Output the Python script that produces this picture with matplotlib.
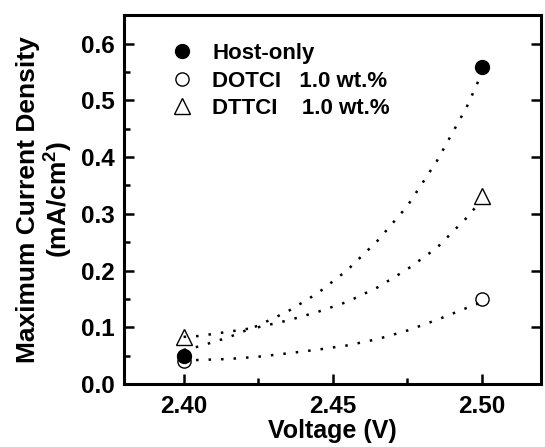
import matplotlib
matplotlib.use("Agg")
import matplotlib.pyplot as plt
from matplotlib.ticker import MultipleLocator, FormatStrFormatter

plt.rcParams["font.family"] = ["Liberation Sans", "DejaVu Sans"]
plt.rcParams["font.weight"] = "bold"
plt.rcParams["mathtext.fontset"] = "custom"
plt.rcParams["mathtext.rm"] = "Liberation Sans:bold"
plt.rcParams["mathtext.bf"] = "Liberation Sans:bold"
plt.rcParams["mathtext.default"] = "regular"

# measured points
voltage = [2.40, 2.50]
host_only = [0.050, 0.559]
dotci = [0.041, 0.150]
dttci = [0.083, 0.332]
labels = ["Host-only", "DOTCI   1.0 wt.%", "DTTCI    1.0 wt.%"]

# dotted fit curves
fit_v = [2.400, 2.405, 2.415, 2.425, 2.435, 2.445, 2.455, 2.465, 2.475, 2.485, 2.495, 2.499]
fit_host = [0.060, 0.066, 0.082, 0.103, 0.128, 0.160, 0.201, 0.252, 0.313, 0.393, 0.488, 0.535]
fit_dotci = [0.041, 0.0423, 0.044, 0.048, 0.054, 0.0605, 0.068, 0.079, 0.094, 0.113, 0.134, 0.142]
fit_dttci = [0.083, 0.0845, 0.092, 0.100, 0.112, 0.127, 0.145, 0.170, 0.202, 0.240, 0.293, 0.318]

fig = plt.figure(figsize=(5.45, 4.47), dpi=100)
ax = fig.add_axes([0.2275, 0.141, 0.7655, 0.825])

dots = (0, (1, 4))
for fy in (fit_host, fit_dotci, fit_dttci):
    ax.plot(fit_v, fy, color="black", lw=1.8, linestyle=dots, zorder=2)

ax.plot(voltage, host_only, "o", color="black", ms=10, label=labels[0], zorder=3)
ax.plot(voltage, dotci, "o", mfc="none", mec="black", mew=1.0, ms=9.5, label=labels[1], zorder=3)
ax.plot(voltage, dttci, "^", mfc="none", mec="black", mew=1.0, ms=11, label=labels[2], zorder=3)

ax.set_xlim(2.38, 2.52)
ax.set_ylim(0, 0.65)
ax.xaxis.set_major_locator(MultipleLocator(0.05))
ax.xaxis.set_minor_locator(MultipleLocator(0.025))
ax.yaxis.set_major_locator(MultipleLocator(0.1))
ax.yaxis.set_minor_locator(MultipleLocator(0.05))
ax.xaxis.set_major_formatter(FormatStrFormatter("%.2f"))
ax.yaxis.set_major_formatter(FormatStrFormatter("%.1f"))

for s in ax.spines.values():
    s.set_linewidth(2.2)
ax.tick_params(which="major", direction="in", length=7, width=1.8, labelsize=17.5, pad=7,
               right=True, top=False)
ax.tick_params(which="minor", direction="in", length=4, width=1.8, right=False, top=False)
ax.tick_params(axis="x", which="major", pad=8)

ax.set_xlabel("Voltage (V)", fontsize=18, fontweight="bold", labelpad=1)
ax.set_ylabel("Maximum Current Density\n(mA/cm$^{2}$)", fontsize=19, fontweight="bold",
              labelpad=4, linespacing=1.1)

ax.legend(loc="upper left", bbox_to_anchor=(0.113, 0.925), frameon=False, fontsize=16,
          handlelength=1.0, handletextpad=0.85, labelspacing=0.3, borderpad=0,
          borderaxespad=0, numpoints=1)

fig.savefig("out.png", dpi=100)
